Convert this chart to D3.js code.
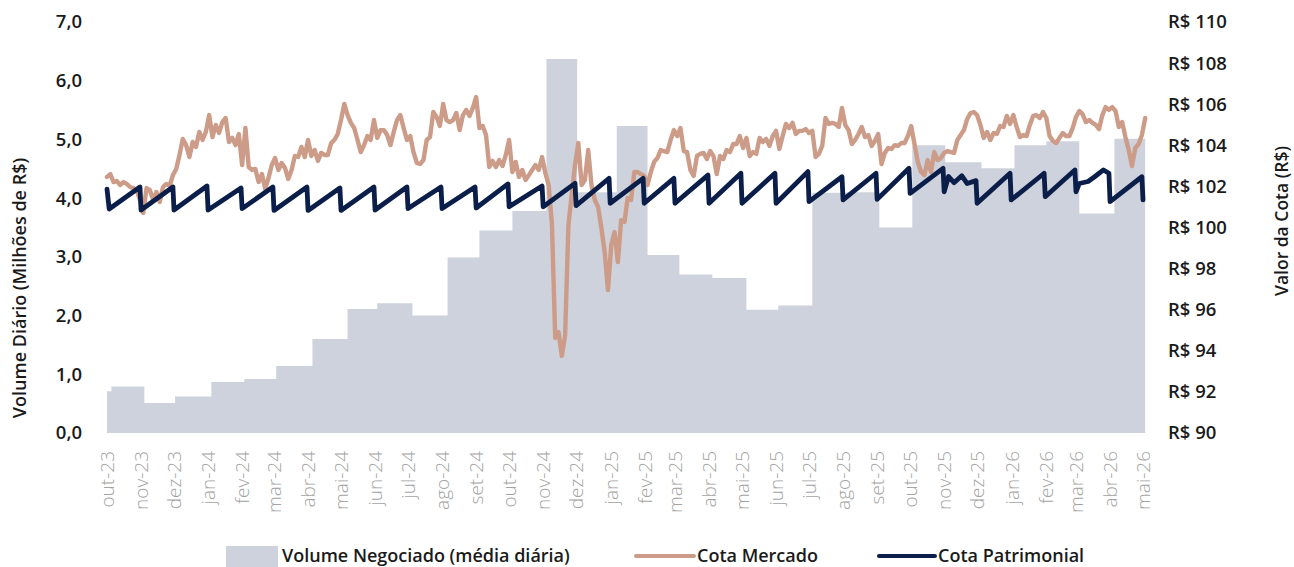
<!DOCTYPE html>
<html><head><meta charset="utf-8">
<script src="https://cdn.jsdelivr.net/npm/d3@7"></script>
<style>
html,body{margin:0;padding:0;background:#fff;}
svg{display:block;font-family:"Open Sans","Noto Sans",sans-serif;}
</style></head><body>
<svg id="chart" width="1294" height="567"></svg>
<script>
// ---------- DATA ----------
const volumeDates = ["2023-10-01","2023-10-05","2023-11-04","2023-12-02","2024-01-04","2024-02-03","2024-03-03","2024-04-05","2024-05-07","2024-06-03","2024-07-05","2024-08-06","2024-09-04","2024-10-04","2024-11-04","2024-12-02","2025-01-07","2025-02-04","2025-03-05","2025-04-04","2025-05-05","2025-06-03","2025-07-04","2025-08-04","2025-09-03","2025-10-03","2025-11-02","2025-12-05","2026-01-04","2026-02-02","2026-03-04","2026-04-05","2026-05-03"];
const volumeValues = [0.71,0.79,0.51,0.62,0.87,0.92,1.14,1.60,2.11,2.21,2.00,2.99,3.45,3.78,6.37,4.10,5.23,3.03,2.70,2.64,2.10,2.17,4.09,4.10,3.50,4.90,4.61,4.51,4.90,4.97,3.74,5.01,5.01];

const mercadoStart = "2023-10-01";
const mercadoStepDays = 3;
const cotaMercado = [
102.46,102.60,102.21,102.26,102.07,102.21,102.12,101.97,101.92,101.82,
101.34,100.71,101.92,101.82,101.34,101.73,101.24,101.97,102.12,102.02,
102.55,102.85,103.53,104.31,104.01,103.43,104.16,103.92,104.65,104.26,
104.65,105.47,104.40,104.99,104.60,105.13,105.33,104.16,104.36,104.01,
104.55,103.04,104.84,102.94,102.80,102.85,102.21,102.60,101.87,102.41,
103.04,103.38,102.80,103.14,102.90,102.36,102.80,103.48,103.43,103.92,
103.43,104.26,103.48,103.77,103.24,103.63,103.53,103.53,104.11,104.26,
104.55,105.23,106.01,105.47,105.09,104.84,104.26,103.67,104.01,104.45,
104.26,105.23,104.36,104.74,104.74,104.50,104.01,104.65,105.23,105.47,
104.84,104.26,104.45,103.67,103.14,103.09,103.28,104.26,104.40,105.62,
105.38,104.94,106.01,105.23,105.13,105.23,105.57,104.74,105.47,105.72,
105.43,105.82,106.35,104.84,104.94,104.50,102.94,103.24,102.94,103.28,
102.99,103.53,104.26,102.70,103.19,102.46,102.80,102.31,102.55,102.80,
103.04,102.80,103.43,102.65,102.07,100.17,94.62,94.91,93.75,94.77,
100.12,101.58,103.04,104.11,102.07,102.31,103.77,102.07,101.34,101.00,
99.98,98.81,96.96,99.15,99.78,98.32,100.36,100.27,101.44,101.34,
102.70,102.70,102.60,102.51,102.07,102.70,103.19,103.38,103.77,103.72,
103.67,104.26,104.74,104.45,104.84,103.72,103.67,102.80,102.51,103.48,
103.58,103.63,103.33,103.72,103.48,102.60,103.48,103.33,103.77,103.67,
104.06,104.06,104.45,103.87,104.36,103.48,103.67,103.58,104.36,104.16,
104.31,103.97,104.45,104.70,103.82,104.45,105.04,104.84,105.09,104.55,
104.70,104.70,104.79,104.60,104.70,103.43,103.58,103.97,105.33,105.04,
105.09,105.04,104.89,105.82,104.99,104.74,104.06,104.26,104.55,104.89,
104.40,104.50,103.97,104.21,104.55,103.09,103.63,103.87,103.82,104.01,
103.97,104.11,104.11,104.45,104.94,104.06,103.19,102.70,102.55,103.28,
102.70,103.67,103.28,103.38,103.63,103.72,103.67,103.63,104.26,104.50,
104.74,105.28,105.57,105.62,105.47,104.99,104.36,104.65,104.26,104.60,
104.55,104.94,104.89,105.43,105.04,105.47,104.89,104.40,104.50,104.45,
104.99,105.43,105.47,105.33,105.62,105.33,104.45,104.21,104.11,104.36,
104.60,104.45,104.45,104.84,105.38,105.67,105.52,105.13,105.23,105.09,
104.99,104.79,105.47,105.86,105.72,105.86,105.67,104.89,105.13,104.40,
103.77,102.99,103.87,104.06,104.50,105.33];

const patrimonialDates = ["2023-10-01","2023-10-03","2023-10-31","2023-11-01","2023-11-30","2023-12-01","2023-12-31","2024-01-01","2024-01-31","2024-02-01","2024-02-29","2024-03-01","2024-03-31","2024-04-01","2024-04-30","2024-05-01","2024-05-31","2024-06-01","2024-06-30","2024-07-01","2024-07-31","2024-08-01","2024-08-31","2024-09-01","2024-09-30","2024-10-01","2024-10-31","2024-11-01","2024-11-30","2024-12-01","2024-12-31","2025-01-01","2025-01-31","2025-02-01","2025-02-28","2025-03-01","2025-03-31","2025-04-01","2025-04-30","2025-05-01","2025-05-31","2025-06-01","2025-06-30","2025-07-01","2025-07-31","2025-08-01","2025-08-31","2025-09-01","2025-09-30","2025-10-01","2025-10-31","2025-11-01","2025-11-05","2025-11-10","2025-11-17","2025-11-22","2025-11-30","2025-12-01","2025-12-31","2026-01-01","2026-01-31","2026-02-01","2026-02-28","2026-03-01","2026-03-04","2026-03-12","2026-03-18","2026-03-26","2026-03-31","2026-04-01","2026-04-30","2026-05-01"];
const patrimonialValues = [101.87,100.90,101.97,100.85,101.97,100.85,102.02,100.85,101.92,100.92,101.97,100.83,101.97,100.83,101.92,100.83,101.97,100.85,101.97,100.92,101.97,100.92,101.97,100.95,102.12,101.01,102.02,101.01,102.15,101.06,102.39,101.18,102.39,101.18,102.39,101.18,102.55,101.18,102.64,101.18,102.64,101.18,102.72,101.26,102.47,101.34,102.64,101.37,102.88,101.66,102.88,101.74,102.48,102.18,102.52,102.14,102.28,101.18,102.64,101.34,102.64,101.50,102.80,101.74,102.14,102.24,102.47,102.80,102.64,101.26,102.47,101.34];

const xTickLabels = ["out-23","nov-23","dez-23","jan-24","fev-24","mar-24","abr-24","mai-24","jun-24","jul-24","ago-24","set-24","out-24","nov-24","dez-24","jan-25","fev-25","mar-25","abr-25","mai-25","jun-25","jul-25","ago-25","set-25","out-25","nov-25","dez-25","jan-26","fev-26","mar-26","abr-26","mai-26"];
const leftTicks = [0,1,2,3,4,5,6,7];
const rightTicks = [90,92,94,96,98,100,102,104,106,108,110];
const seriesNames = ["Volume Negociado (média diária)","Cota Mercado","Cota Patrimonial"];

// ---------- CHART ----------
const C = {area:"#cdd2dc", tan:"#cc9c88", navy:"#0b1e4a", text:"#1a1a1a", xlab:"#a3a3a3"};
const parse = d3.utcParse("%Y-%m-%d");
const svg = d3.select("#chart");

const x = d3.scaleUtc().domain([parse("2023-10-01"), parse("2026-05-01")]).range([107, 1143]);
const yL = d3.scaleLinear().domain([0, 7]).range([433, 22]);
const yR = d3.scaleLinear().domain([90, 110]).range([433, 22]);

const vol = volumeDates.map((d,i)=>({date:parse(d), v:volumeValues[i]}));
const t0 = parse(mercadoStart);
const merc = cotaMercado.map((v,i)=>({date:d3.utcDay.offset(t0, i*mercadoStepDays), v}));
const pat = patrimonialDates.map((d,i)=>({date:parse(d), v:patrimonialValues[i]}));

svg.append("path").datum(vol)
  .attr("fill", C.area)
  .attr("d", d3.area().curve(d3.curveStepAfter).x(d=>x(d.date)).y0(yL(0)).y1(d=>yL(d.v)));

svg.append("path").datum(merc)
  .attr("fill","none").attr("stroke",C.tan).attr("stroke-width",4.4)
  .attr("stroke-linejoin","round").attr("stroke-linecap","round")
  .attr("d", d3.line().x(d=>x(d.date)).y(d=>yR(d.v)));

svg.append("path").datum(pat)
  .attr("fill","none").attr("stroke",C.navy).attr("stroke-width",4.8)
  .attr("stroke-linejoin","round").attr("stroke-linecap","round")
  .attr("d", d3.line().x(d=>x(d.date)).y(d=>yR(d.v)));

// left axis
const gL = svg.append("g").attr("transform","translate(82,0)")
  .call(d3.axisLeft(yL).tickValues(leftTicks).tickSize(0).tickPadding(0)
    .tickFormat(d=>d3.format(".1f")(d).replace(".",",")));
gL.select(".domain").remove();
gL.selectAll("text").attr("fill",C.text).style("font-size","18.5px").style("font-weight",600).style("font-family","'Open Sans'");

// right axis
const gR = svg.append("g").attr("transform","translate(1168,0)")
  .call(d3.axisRight(yR).tickValues(rightTicks).tickSize(0).tickPadding(0)
    .tickFormat(d=>"R$ "+d));
gR.select(".domain").remove();
gR.selectAll("text").attr("fill",C.text).style("font-size","18.5px").style("font-weight",600).style("font-family","'Open Sans'");

// x axis
const tickDates = d3.utcMonth.range(parse("2023-10-01"), parse("2026-05-02"));
const gX = svg.append("g").attr("transform","translate(0,451)")
  .call(d3.axisBottom(x).tickValues(tickDates).tickSize(0).tickPadding(0)
    .tickFormat((d,i)=>xTickLabels[i]));
gX.select(".domain").remove();
gX.selectAll("text")
  .attr("transform","rotate(-90)").attr("text-anchor","end")
  .attr("x",0).attr("y",0).attr("dy","0.36em")
  .attr("fill",C.xlab).style("font-size","19px").style("font-weight",300).style("font-family","'Open Sans'");

// axis titles
svg.append("text").attr("transform","translate(20,288) rotate(-90)")
  .attr("text-anchor","middle").attr("dy","0.35em")
  .attr("fill",C.text).style("font-size","18px").style("font-weight",600)
  .text("Volume Diário (Milhões de R$)");
svg.append("text").attr("transform","translate(1282,221) rotate(-90)")
  .attr("text-anchor","middle").attr("dy","0.35em")
  .attr("fill",C.text).style("font-size","17.5px").style("font-weight",600)
  .text("Valor da Cota (R$)");

// legend
const lg = svg.append("g");
lg.append("rect").attr("x",226).attr("y",546).attr("width",52).attr("height",21).attr("fill",C.area);
lg.append("text").attr("x",282).attr("y",556).attr("dy","0.35em").attr("fill",C.text)
  .style("font-size","18px").style("font-weight",600).text(seriesNames[0]);
lg.append("line").attr("x1",636).attr("x2",694).attr("y1",556).attr("y2",556)
  .attr("stroke",C.tan).attr("stroke-width",4).attr("stroke-linecap","round");
lg.append("text").attr("x",697).attr("y",556).attr("dy","0.35em").attr("fill",C.text)
  .style("font-size","18px").style("font-weight",600).text(seriesNames[1]);
lg.append("line").attr("x1",879).attr("x2",935).attr("y1",556).attr("y2",556)
  .attr("stroke",C.navy).attr("stroke-width",4).attr("stroke-linecap","round");
lg.append("text").attr("x",938).attr("y",556).attr("dy","0.35em").attr("fill",C.text)
  .style("font-size","18px").style("font-weight",600).text(seriesNames[2]);
</script>
</body></html>
